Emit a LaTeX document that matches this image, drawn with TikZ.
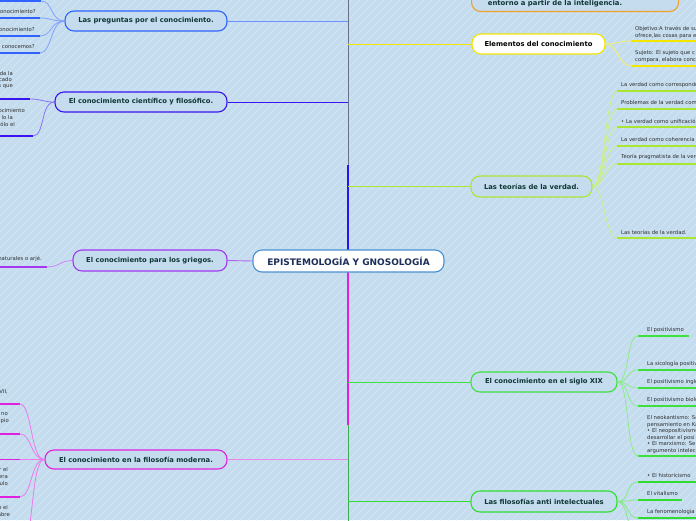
\documentclass[tikz,border=0pt]{standalone}
\usepackage{fontspec}
\setmainfont{DejaVu Sans}
\definecolor{bg}{HTML}{C4DCEE}
\definecolor{stripe}{HTML}{CDE3F3}
\definecolor{txtdark}{HTML}{0F3636}
\definecolor{rootxt}{HTML}{1C2E5A}
\definecolor{leafgray}{HTML}{2E2E2E}
\definecolor{rootc}{HTML}{4A90D0}
\definecolor{pregc}{HTML}{2F62FF}
\definecolor{cientc}{HTML}{3A14F0}
\definecolor{griegc}{HTML}{A238F0}
\definecolor{modc}{HTML}{E022E0}
\definecolor{elemc}{HTML}{F2E600}
\definecolor{teorc}{HTML}{A8E632}
\definecolor{xixc}{HTML}{3EE03E}
\definecolor{antic}{HTML}{30DC30}
\definecolor{orangec}{HTML}{F0A228}
\definecolor{trunkc}{HTML}{66708A}
\tikzset{
  mainbox/.style={draw=#1, line width=1.1pt, rounded corners=9pt, minimum height=20pt,
    inner sep=0pt, font=\fontsize{6.8}{7}\selectfont\bfseries, text=txtdark, fill=bg},
  leaf/.style={font=\fontsize{5.3}{7}\selectfont, text=leafgray, inner sep=0pt, align=left},
  leafline/.style={draw=#1, line width=1.8pt},
  conn/.style={draw=#1!60!white, line width=0.8pt},
  branch/.style={draw=#1, line width=0.9pt}
}
\begin{document}
\begin{tikzpicture}[x=1pt,y=-1pt]
\useasboundingbox (0,0) rectangle (696,520);
\clip (0,0) rectangle (696,520);
\fill[bg] (0,0) rectangle (696,520);
\foreach \i in {-528,-520,...,696} \draw[stripe, line width=1.2pt] (\i,520) -- (\i+520,0);

% ---------- trunk ----------
\coordinate (tTop) at (348,-5);
\coordinate (tUp) at (348,250);
\coordinate (tDown) at (348,272);
\coordinate (tBot) at (348,525);
\draw[trunkc, line width=0.8pt] (tUp) -- (tTop);
\draw[cientc!80!blue, line width=2pt] (tUp) -- (348,165);
\draw[trunkc!60!green, line width=0.8pt] (tDown) -- (tBot);
\draw[modc, line width=2pt] (tDown) -- (348,425);

% ---------- nodes ----------
\node[mainbox=rootc, fill=white, text=rootxt, minimum width=191pt, minimum height=22pt,
  font=\fontsize{9}{9}\selectfont\bfseries] (root) at (348.5,261) {EPISTEMOLOGÍA Y GNOSOLOGÍA};

\node[mainbox=pregc, minimum width=162pt] (preg) at (146,21) {Las preguntas por el conocimiento.};
\node[mainbox=cientc, minimum width=172pt] (cient) at (141,102) {El conocimiento científico y filosófico.};
\node[mainbox=griegc, minimum width=154pt, minimum height=21pt] (grieg) at (150,260.5) {El conocimiento para los griegos.};
\node[mainbox=modc, minimum width=182pt, minimum height=19pt] (mod) at (136,459.5) {El conocimiento en la filosofía moderna.};

\node[mainbox=orangec, minimum width=207pt, minimum height=34pt, anchor=south west] (orng) at (471,12) {};
\node[font=\fontsize{6.9}{7}\selectfont\bfseries, text=txtdark, inner sep=0pt] (orngt) at (555,3.5) {entorno a partir de la inteligencia.};
\node[mainbox=elemc, fill=white, text=black, minimum width=133pt] (elem) at (538.5,44) {Elementos del conocimiento};
\node[mainbox=teorc, minimum width=121pt, minimum height=21pt] (teor) at (531.5,186.5) {Las teorías de la verdad.};
\node[mainbox=xixc, minimum width=146pt] (xix) at (544,382) {El conocimiento en el siglo XIX};
\node[mainbox=antic, minimum width=146pt, minimum height=21pt] (anti) at (544,501.5) {Las filosofías anti intelectuales};

% ---------- branches ----------
\draw[branch=pregc!70!white] (preg.east) -- (348,21);
\draw[branch=cientc] (cient.east) -- (348,102);
\draw[branch=griegc!80!white] (grieg.east) -- (root.west);
\draw[branch=modc!55!white] (mod.east) -- (348,459.5);
\draw[branch=elemc] (348,44) -- (elem.west);
\draw[branch=teorc] (348,186.5) -- (teor.west);
\draw[branch=xixc] (348,382) -- (xix.west);
\draw[branch=antic] (348,501.5) -- (anti.west);

% ---------- preguntas leaves ----------
\coordinate (p1) at (41,1); \coordinate (p2) at (40,18);
\coordinate (p3) at (40,36); \coordinate (p4) at (40,53);
\foreach \c in {p1,p2,p3,p4} {
  \draw[leafline=pregc] (\c) -- ++(-50,0);
  \draw[conn=pregc] (preg.west) .. controls +(-14,0) and +(12,0) .. (\c);
}
\node[leaf, anchor=east] (pt2) at (36,12) {conocimiento?};
\node[leaf, anchor=east] (pt3) at (35,29.5) {conocimiento?};
\node[leaf, anchor=east] (pt4) at (35,47) {¿Cómo conocemos?};

% ---------- cientifico leaves ----------
\coordinate (c1) at (30,99); \coordinate (c2) at (33,136);
\draw[leafline=cientc] (c1) -- ++(-40,0);
\draw[leafline=cientc] (c2) -- ++(-40,0);
\draw[conn=cientc] (cient.west) .. controls +(-12,0) and +(12,0) .. (c1);
\draw[conn=cientc] (cient.west) .. controls +(-14,0) and +(12,0) .. (c2);
\node[leaf, anchor=east] (ct1) at (13,73.5) {da la};
\node[leaf, anchor=east] (ct2) at (12,80) {cado};
\node[leaf, anchor=east] (ct3) at (13,87) {s que};
\node[leaf, anchor=east] (ct4) at (25,111) {conocimiento};
\node[leaf, anchor=east] (ct5) at (13,117.5) {lo la};
\node[leaf, anchor=east] (ct6) at (15,124) {sólo el};

% ---------- griegos leaves ----------
\coordinate (g1) at (47,267);
\draw[leafline=griegc] (g1) -- ++(-55,0);
\draw[conn=griegc] (grieg.west) .. controls +(-12,0) and +(12,0) .. (g1);
\node[leaf, anchor=east] (gt1) at (42,259) {naturales o arjé.};

% ---------- moderna leaves ----------
\coordinate (m1) at (20,404); \coordinate (m2) at (20,434);
\coordinate (m3) at (20,459.5); \coordinate (m4) at (20,497); \coordinate (m5) at (22,545);
\foreach \c in {m1,m2,m3,m4} \draw[leafline=modc] (\c) -- ++(-30,0);
\foreach \c in {m1,m2,m3,m4,m5} \draw[conn=modc] (mod.west) .. controls +(-14,0) and +(12,0) .. (\c);
\node[leaf, anchor=east] (mt1) at (8,392) {XVII,};
\node[leaf, anchor=east] (mt2) at (8,414) {no};
\node[leaf, anchor=east] (mt3) at (9,421) {pio};
\node[leaf, anchor=east] (mt4) at (8,470) {r el};
\node[leaf, anchor=east] (mt5) at (8,477) {era};
\node[leaf, anchor=east] (mt6) at (8,484) {ulo};
\node[leaf, anchor=east] (mt7) at (8,508) {n el};
\node[leaf, anchor=east] (mt8) at (10,515) {mbre};

% ---------- elementos leaves ----------
\coordinate (e1) at (631,41); \coordinate (e2) at (631,66);
\draw[leafline=elemc] (e1) -- ++(70,0);
\draw[leafline=elemc] (e2) -- ++(70,0);
\draw[conn=elemc] (elem.east) .. controls +(12,0) and +(-12,0) .. (e1);
\draw[conn=elemc] (elem.east) .. controls +(12,0) and +(-12,0) .. (e2);
\node[leaf, anchor=west] (et1) at (635,32.5) {Objetivo:A través de sus\\ofrece,las cosas para el};
\node[leaf, anchor=west] (et2) at (635,57) {Sujeto: El sujeto que c\\compara, elabora conc};

% ---------- teorias leaves ----------
\coordinate (t1) at (617,91); \coordinate (t2) at (617,109);
\coordinate (t3) at (617,127); \coordinate (t4) at (617,146);
\coordinate (t5) at (617,164); \coordinate (t6) at (617,238);
\foreach \c in {t1,t2,t3,t4,t5,t6} {
  \draw[leafline=teorc] (\c) -- ++(85,0);
  \draw[conn=teorc] (teor.east) .. controls +(12,0) and +(-12,0) .. (\c);
}
\node[leaf, anchor=west] (tt1) at (621,85) {La verdad como correspondencia};
\node[leaf, anchor=west] (tt2) at (621,103) {Problemas de la verdad como};
\node[leaf, anchor=west] (tt3) at (621,121) {• La verdad como unificación};
\node[leaf, anchor=west] (tt4) at (621,139.5) {La verdad como coherencia};
\node[leaf, anchor=west] (tt5) at (621,157) {Teoría pragmatista de la verdad};
\node[leaf, anchor=west] (tt6) at (621,232.5) {Las teorías de la verdad.};

% ---------- siglo XIX leaves ----------
\coordinate (x1) at (638,336); \coordinate (x2) at (638,370);
\coordinate (x3) at (638,388); \coordinate (x4) at (638,406); \coordinate (x5) at (638,456);
\draw[leafline=xixc] (x1) -- (689,336);
\foreach \c in {x2,x3,x4,x5} \draw[leafline=xixc] (\c) -- ++(65,0);
\foreach \c in {x1,x2,x3,x4,x5} \draw[conn=xixc] (xix.east) .. controls +(12,0) and +(-12,0) .. (\c);
\node[leaf, anchor=west] (xt1) at (647,330) {El positivismo};
\node[leaf, anchor=west] (xt2) at (647,363.5) {La sicología positivista};
\node[leaf, anchor=west] (xt3) at (647,381.5) {El positivismo inglés};
\node[leaf, anchor=west] (xt4) at (647,399.5) {El positivismo biológico};
\node[leaf, anchor=west, font=\fontsize{5.3}{6.6}\selectfont] (xt5) at (647,434.5) {El neokantismo: Se\\pensamiento en Kant\\• El neopositivismo\\desarrollar el posi\\• El marxismo: Se\\argumento intelec};

% ---------- anti intelectuales leaves ----------
\coordinate (a1) at (638,482); \coordinate (a2) at (638,500); \coordinate (a3) at (638,518); \coordinate (a4) at (640,545);
\draw[leafline=antic] (a1) -- ++(65,0);
\draw[leafline=antic] (a2) -- (682,500);
\draw[leafline=antic] (a3) -- ++(65,0);
\foreach \c in {a1,a2,a3,a4} \draw[conn=antic] (anti.east) .. controls +(12,0) and +(-12,0) .. (\c);
\node[leaf, anchor=west] (at1) at (647,476) {• El historicismo};
\node[leaf, anchor=west] (at2) at (647,493.5) {El vitalismo};
\node[leaf, anchor=west] (at3) at (647,511.5) {La fenomenología};
\end{tikzpicture}
\end{document}
